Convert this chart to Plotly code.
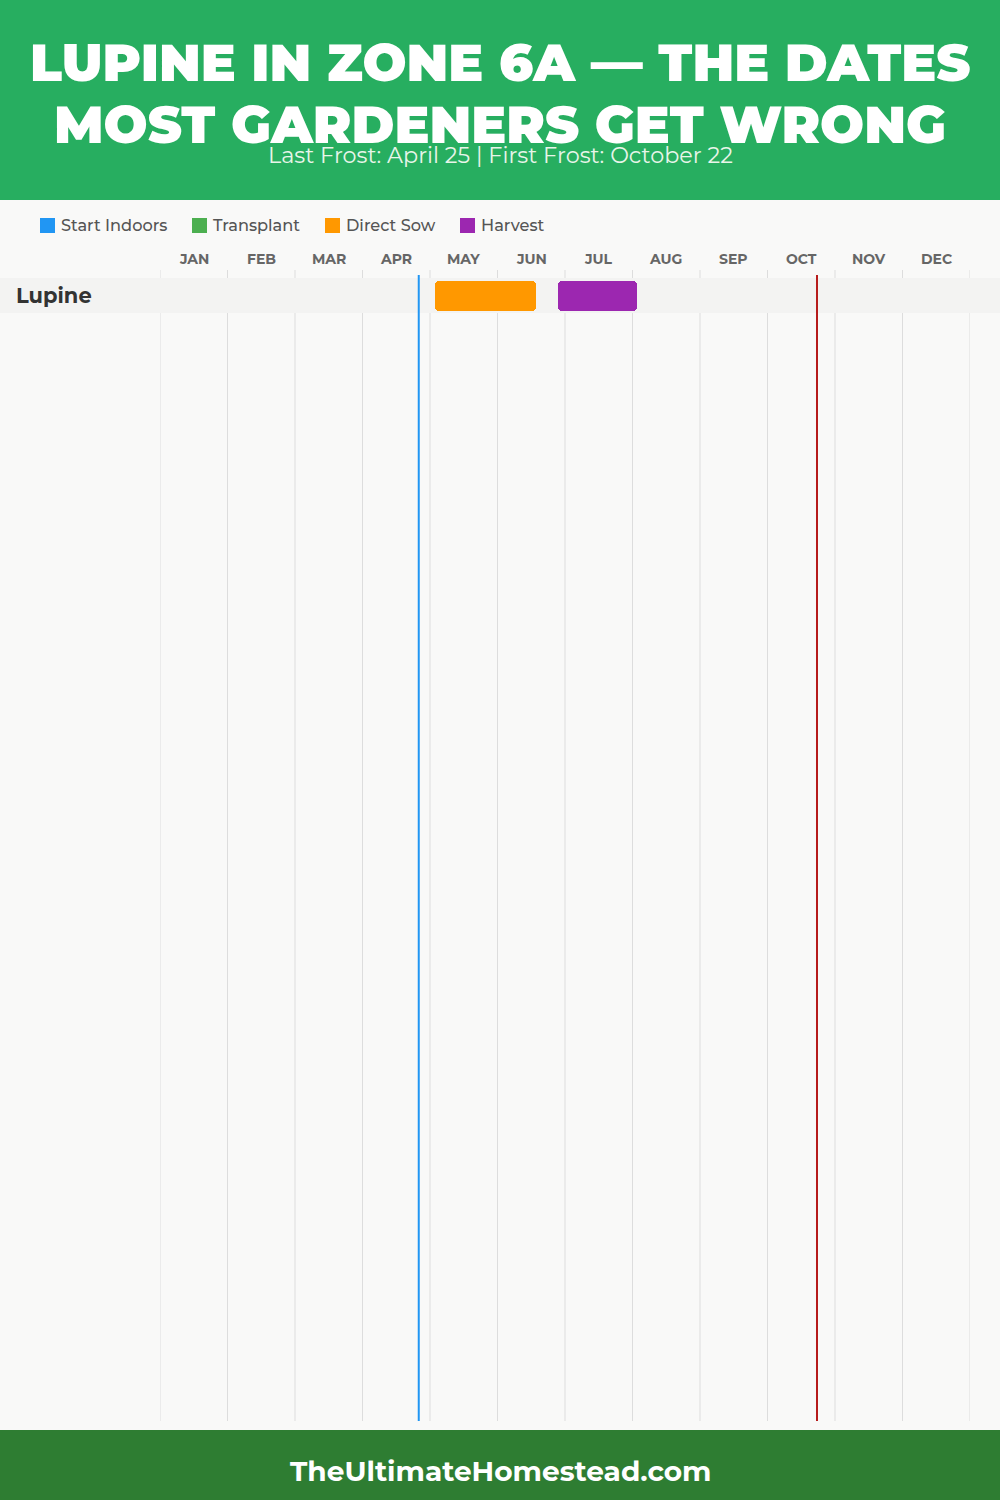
import plotly.graph_objects as go

# ---------------- data ----------------
months = ["JAN", "FEB", "MAR", "APR", "MAY", "JUN", "JUL", "AUG", "SEP", "OCT", "NOV", "DEC"]
crops = ["Lupine"]
legend_names = ["Start Indoors", "Transplant", "Direct Sow", "Harvest"]
legend_colors = ["#2196F3", "#4CAF50", "#FF9800", "#9C27B0"]

# activity windows for Lupine as (month, day)
sow_start = (5, 2)
sow_end = (6, 17)
harvest_start = (6, 27)
harvest_end = (8, 2)

last_frost = (4, 25)
first_frost = (10, 22)

title_lines = ["LUPINE IN ZONE 6A — THE DATES", "MOST GARDENERS GET WRONG"]
subtitle = "Last Frost: April 25 | First Frost: October 22"
footer = "TheUltimateHomestead.com"


def mpos(md):
    m, d = md
    return (m - 1) + d / 30.0


# ---------------- layout helpers ----------------
W, H = 1000, 1500
L, R, T, B = 160, 30, 270, 79
PW = W - L - R
PH = H - T - B


def px(x):
    return (x - L) / PW


def py(y):
    return (H - B - y) / PH


ROW_PX = 35.0
top_units = 25.5 / ROW_PX
yr = [-top_units + PH / ROW_PX, -top_units]

TITLE_FONT = "Montserrat, Inter, 'Open Sans', sans-serif"
BODY_FONT = "Montserrat, Inter, 'Open Sans', sans-serif"

fig = go.Figure()

# bars
bars = [
    ("Direct Sow", sow_start, sow_end, legend_colors[2]),
    ("Harvest", harvest_start, harvest_end, legend_colors[3]),
]
for name, s, e, c in bars:
    fig.add_trace(go.Bar(
        y=[0], base=[mpos(s)], x=[mpos(e) - mpos(s)], orientation="h",
        width=30 / ROW_PX, marker=dict(color=c, cornerradius=4, line=dict(width=0)),
        name=name, showlegend=False, hoverinfo="skip",
    ))

shapes = []
# header and footer bands
shapes.append(dict(type="rect", xref="paper", yref="paper", x0=px(0), x1=px(W), y0=py(200), y1=py(0),
                   fillcolor="#27AE60", line=dict(width=0), layer="below"))
shapes.append(dict(type="rect", xref="paper", yref="paper", x0=px(0), x1=px(W), y0=py(H), y1=py(1430),
                   fillcolor="#2E7D32", line=dict(width=0), layer="below"))
# gridlines
for i in range(len(months) + 1):
    shapes.append(dict(type="line", xref="x", yref="paper", x0=i, x1=i, y0=0, y1=1,
                       line=dict(color="#DDDDDD", width=1), layer="below"))
# row bands
for i, _ in enumerate(crops):
    shapes.append(dict(type="rect", xref="paper", yref="y", x0=px(0), x1=px(W), y0=i - 0.5, y1=i + 0.5,
                       fillcolor="#F3F3F2", line=dict(width=0), layer="below"))
# frost lines
for md, col in [(last_frost, "#2196F3"), (first_frost, "#B71C1C")]:
    shapes.append(dict(type="line", xref="x", yref="paper", x0=mpos(md), x1=mpos(md), y0=0, y1=py(275),
                       line=dict(color=col, width=2), layer="above"))

annotations = []
# title
for k, (line, yc) in enumerate(zip(title_lines, [63, 125])):
    annotations.append(dict(text=line, xref="paper", yref="paper", x=px(500), y=py(yc),
                            xanchor="center", yanchor="middle", showarrow=False,
                            font=dict(family=TITLE_FONT, size=52, color="white", weight=900)))
annotations.append(dict(text=subtitle, xref="paper", yref="paper", x=px(500), y=py(155),
                        xanchor="center", yanchor="middle", showarrow=False,
                        font=dict(family=BODY_FONT, size=22.3, color="#E8F5E9")))
annotations.append(dict(text=footer, xref="paper", yref="paper", x=px(500), y=py(1471),
                        xanchor="center", yanchor="middle", showarrow=False,
                        font=dict(family=BODY_FONT, size=28, color="white", weight=700)))
# legend
leg_x = [40, 192, 325, 460]
for name, col, lx in zip(legend_names, legend_colors, leg_x):
    shapes.append(dict(type="rect", xref="paper", yref="paper", x0=px(lx), x1=px(lx + 15),
                       y0=py(233), y1=py(218), fillcolor=col, line=dict(width=0)))
    annotations.append(dict(text=name, xref="paper", yref="paper", x=px(lx + 19), y=py(225.5),
                            xanchor="left", yanchor="middle", showarrow=False,
                            font=dict(family=BODY_FONT, size=16.2, color="#555555", weight=500)))
# month labels
for i, m in enumerate(months):
    annotations.append(dict(text=m, xref="x", yref="paper", x=i + 0.5, y=py(259),
                            xanchor="center", yanchor="middle", showarrow=False,
                            font=dict(family=BODY_FONT, size=14, color="#666666", weight=700)))
# crop labels
for i, c in enumerate(crops):
    annotations.append(dict(text=c, xref="paper", yref="y", x=px(14), y=i,
                            xanchor="left", yanchor="middle", showarrow=False,
                            font=dict(family=BODY_FONT, size=21, color="#333333", weight=700)))

fig.update_layout(
    width=W, height=H,
    margin=dict(l=L, r=R, t=T, b=B, pad=0),
    paper_bgcolor="#F9F9F8", plot_bgcolor="#F9F9F8",
    xaxis=dict(range=[0, 12], showgrid=False, zeroline=False, showticklabels=False, ticks="", showline=False,
               fixedrange=True),
    yaxis=dict(range=yr, showgrid=False, zeroline=False, showticklabels=False, ticks="", showline=False,
               fixedrange=True),
    shapes=shapes, annotations=annotations, showlegend=False, bargap=0, barmode="overlay",
)

fig.write_html("out.html", config={"displayModeBar": False},
               post_script="document.body.style.margin='0';")
